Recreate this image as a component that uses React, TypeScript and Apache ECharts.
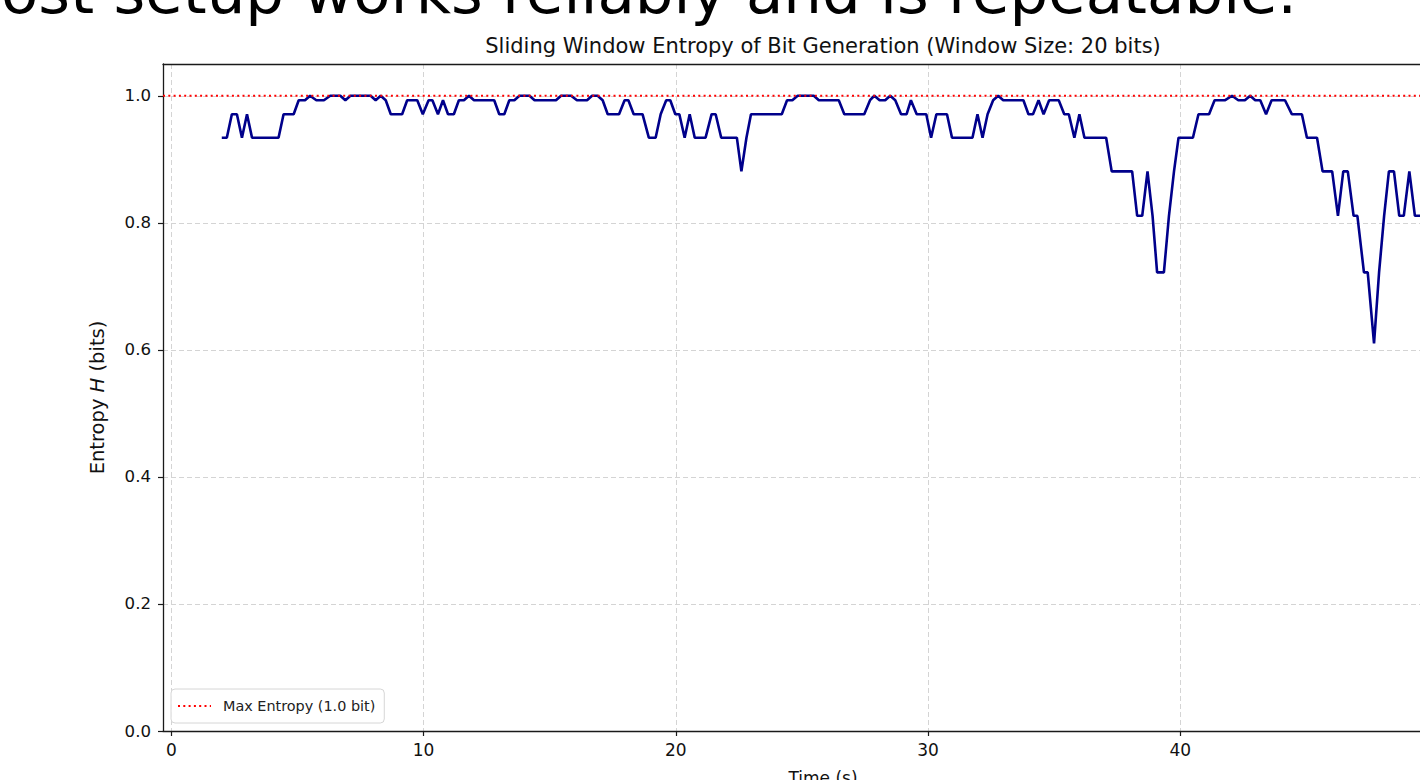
import React, { useEffect, useRef } from "react";
import * as echarts from "echarts";

const TITLE = "Sliding Window Entropy of Bit Generation (Window Size: 20 bits)";
const HEADLINE = "ost setup works reliably and is repeatable.";
const X_NAME = "Time (s)";
const Y_NAME = "Entropy {i|H} (bits)";
const LEGEND_LABEL = "Max Entropy (1.0 bit)";
const X_TICKS = [0, 10, 20, 30, 40, 50];
const Y_TICKS = [0, 0.2, 0.4, 0.6, 0.8, 1.0];
const X_MIN = -0.33;
const X_MAX = 52.0;
const Y_MIN = 0;
const Y_MAX = 1.05;
const MAX_ENTROPY = 1.0;

// vertices of the sliding-window entropy trace (time in s, entropy in bits)
const times = [
  2.0, 2.2, 2.4, 2.6, 2.8, 3.0, 3.2, 4.25, 4.45, 4.85, 5.05, 5.3, 5.5, 5.75, 6.05, 6.3, 6.7, 6.9, 7.1, 7.9,
  8.1, 8.3, 8.5, 8.7, 9.15, 9.35, 9.75, 9.97, 10.2, 10.35, 10.57, 10.77, 10.97, 11.2, 11.4, 11.6, 11.8, 12.0, 12.8, 13.0,
  13.2, 13.4, 13.6, 13.8, 14.2, 14.4, 15.25, 15.45, 15.85, 16.08, 16.48, 16.68, 16.9, 17.1, 17.3, 17.75, 17.97, 18.12, 18.33, 18.68,
  18.93, 19.2, 19.4, 19.62, 19.78, 19.98, 20.14, 20.35, 20.55, 20.75, 21.18, 21.42, 21.58, 21.8, 22.42, 22.6, 22.8, 22.98, 24.2, 24.41,
  24.62, 24.83, 25.47, 25.67, 26.46, 26.68, 27.47, 27.7, 27.87, 28.08, 28.3, 28.5, 28.7, 28.93, 29.15, 29.32, 29.55, 29.93, 30.12, 30.33,
  30.75, 30.95, 31.76, 31.96, 32.16, 32.36, 32.58, 32.78, 32.98, 33.78, 33.98, 34.16, 34.38, 34.58, 34.8, 35.18, 35.4, 35.58, 35.8, 36.0,
  36.2, 37.06, 37.28, 38.09, 38.29, 38.49, 38.7, 38.9, 39.08, 39.35, 39.55, 39.75, 39.93, 40.5, 40.72, 41.14, 41.36, 41.78, 42.05, 42.3,
  42.56, 42.77, 42.97, 43.17, 43.4, 43.62, 44.15, 44.42, 44.82, 45.02, 45.42, 45.64, 46.02, 46.25, 46.46, 46.64, 46.87, 47.02, 47.28, 47.43,
  47.68, 47.88, 48.08, 48.27, 48.47, 48.68, 48.86, 49.08, 49.3, 49.9,
];
const entropy = [
  0.934, 0.934, 0.971, 0.971, 0.934, 0.971, 0.934, 0.934, 0.971, 0.971, 0.993, 0.993, 1.0, 0.993, 0.993, 1.0, 1.0, 0.993, 1.0, 1.0,
  0.993, 1.0, 0.993, 0.971, 0.971, 0.993, 0.993, 0.971, 0.993, 0.993, 0.971, 0.993, 0.971, 0.971, 0.993, 0.993, 1.0, 0.993, 0.993, 0.971,
  0.971, 0.993, 0.993, 1.0, 1.0, 0.993, 0.993, 1.0, 1.0, 0.993, 0.993, 1.0, 1.0, 0.993, 0.971, 0.971, 0.993, 0.993, 0.971, 0.971,
  0.934, 0.934, 0.971, 0.993, 0.993, 0.971, 0.971, 0.934, 0.971, 0.934, 0.934, 0.971, 0.971, 0.934, 0.934, 0.881, 0.934, 0.971, 0.971, 0.993,
  0.993, 1.0, 1.0, 0.993, 0.993, 0.971, 0.971, 0.993, 1.0, 0.993, 0.993, 1.0, 0.993, 0.971, 0.971, 0.993, 0.971, 0.971, 0.934, 0.971,
  0.971, 0.934, 0.934, 0.971, 0.934, 0.971, 0.993, 1.0, 0.993, 0.993, 0.971, 0.971, 0.993, 0.971, 0.993, 0.993, 0.971, 0.971, 0.934, 0.971,
  0.934, 0.934, 0.881, 0.881, 0.811, 0.811, 0.881, 0.811, 0.722, 0.722, 0.811, 0.881, 0.934, 0.934, 0.971, 0.971, 0.993, 0.993, 1.0, 0.993,
  0.993, 1.0, 0.993, 0.993, 0.971, 0.993, 0.993, 0.971, 0.971, 0.934, 0.934, 0.881, 0.881, 0.811, 0.881, 0.881, 0.811, 0.811, 0.722, 0.722,
  0.61, 0.722, 0.811, 0.881, 0.881, 0.811, 0.811, 0.881, 0.811, 0.811,
];

const FONT = "'DejaVu Sans', sans-serif";
const AXIS_COLOR = "#1a1a1a";
const GRID_COLOR = "#d4d4d4";
const TEXT_COLOR = "#111";

export default function App() {
  const ref = useRef<HTMLDivElement>(null);

  useEffect(() => {
    if (!ref.current) return;
    const chart = echarts.init(ref.current, undefined, { renderer: "svg" });
    const frameAxis = {
      type: "value" as const,
      axisLine: { show: true, onZero: false, lineStyle: { color: AXIS_COLOR, width: 1.3 } },
      axisTick: { show: false },
      axisLabel: { show: false },
      splitLine: { show: false },
    };
    chart.setOption({
      animation: false,
      textStyle: { fontFamily: FONT },
      title: {
        text: TITLE,
        left: "center",
        top: 30,
        textStyle: { fontFamily: FONT, fontSize: 21, fontWeight: "normal", color: TEXT_COLOR },
      },
      graphic: [
        {
          type: "text",
          right: 1646 - 1297,
          top: -39,
          style: { text: HEADLINE, font: `61px ${FONT}`, fill: "#000" },
        },
      ],
      legend: {
        data: [LEGEND_LABEL],
        left: 171,
        top: 689,
        padding: [10, 9, 10, 6],
        itemWidth: 33,
        itemHeight: 14,
        borderColor: "#d6d6d6",
        borderWidth: 1,
        borderRadius: 4,
        backgroundColor: "rgba(255,255,255,0.85)",
        itemStyle: { color: "rgba(0,0,0,0)", borderWidth: 0, opacity: 0 },
        textStyle: { fontFamily: FONT, fontSize: 14.4, color: "#222", padding: [0, 0, 0, 7] },
      },
      grid: { left: 163, top: 64, width: 1320, height: 667, containLabel: false },
      xAxis: [
        {
          type: "value",
          min: X_MIN,
          max: X_MAX,
          position: "bottom",
          axisLine: { show: true, onZero: false, lineStyle: { color: AXIS_COLOR, width: 1.3 } },
          axisTick: { show: true, customValues: X_TICKS, length: 5, lineStyle: { color: AXIS_COLOR, width: 1.2 } },
          axisLabel: { customValues: X_TICKS, fontSize: 17, color: TEXT_COLOR, margin: 10, fontFamily: FONT },
          splitLine: { show: true, lineStyle: { color: GRID_COLOR, width: 1, type: [5, 3] } },
          name: X_NAME,
          nameLocation: "middle",
          nameGap: 38,
          nameTextStyle: { fontSize: 17, color: TEXT_COLOR, fontFamily: FONT },
        },
        { ...frameAxis, min: X_MIN, max: X_MAX, position: "top" },
      ],
      yAxis: [
        {
          type: "value",
          min: Y_MIN,
          max: Y_MAX,
          position: "left",
          axisLine: { show: true, onZero: false, lineStyle: { color: AXIS_COLOR, width: 1.3 } },
          axisTick: { show: true, customValues: Y_TICKS, length: 5, lineStyle: { color: AXIS_COLOR, width: 1.2 } },
          axisLabel: {
            customValues: Y_TICKS,
            fontSize: 16.6,
            color: TEXT_COLOR,
            margin: 12,
            fontFamily: FONT,
            formatter: (v: number) => v.toFixed(1),
          },
          splitLine: { show: true, lineStyle: { color: GRID_COLOR, width: 1, type: [5, 3] } },
          name: Y_NAME,
          nameLocation: "middle",
          nameGap: 56,
          nameTextStyle: {
            fontSize: 19.5,
            color: TEXT_COLOR,
            fontFamily: FONT,
            rich: { i: { fontStyle: "italic", fontSize: 19.5, color: TEXT_COLOR, fontFamily: FONT } },
          },
        },
        { ...frameAxis, min: Y_MIN, max: Y_MAX, position: "right" },
      ],
      series: [
        {
          type: "line",
          name: "Sliding entropy",
          xAxisIndex: 0,
          yAxisIndex: 0,
          data: times.map((t, i) => [t, entropy[i]]),
          symbol: "none",
          showSymbol: false,
          lineStyle: { color: "#00008b", width: 2.6 },
          z: 3,
        },
        {
          type: "line",
          name: LEGEND_LABEL,
          xAxisIndex: 0,
          yAxisIndex: 0,
          data: [
            [X_MIN, MAX_ENTROPY],
            [X_MAX, MAX_ENTROPY],
          ],
          symbol: "none",
          showSymbol: false,
          itemStyle: { color: "#ff0000" },
          lineStyle: { color: "#ff0000", width: 2, type: [2, 3.3] },
          z: 4,
        },
      ],
    });
    return () => chart.dispose();
  }, []);

  return (
    <div style={{ position: "fixed", left: 0, top: 0, width: 1420, height: 780, overflow: "hidden", background: "#fff" }}>
      <div ref={ref} style={{ position: "absolute", left: 0, top: 0, width: 1646, height: 800 }} />
    </div>
  );
}
